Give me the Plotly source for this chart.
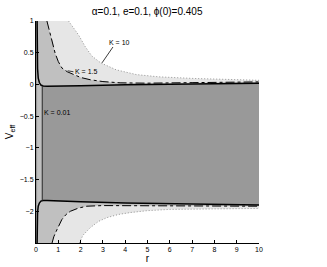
import numpy as np
import plotly.graph_objects as go

# ---- data ----
X_RANGE = [0, 10]
Y_RANGE = [-2.5, 1]

# K = 10 (dotted)
k10_up_r = [1.46, 1.7, 1.91, 2.2, 2.5, 2.9, 3.6, 4.5, 5.5, 7, 8.5, 10]
k10_up_v = [1.0, 0.88, 0.78, 0.6, 0.45, 0.34, 0.23, 0.155, 0.12, 0.095, 0.078, 0.065]
k10_lo_r = [1.95, 2.1, 2.43, 2.8, 3.18, 3.7, 4.22, 5, 6, 8, 10]
k10_lo_v = [-2.5, -2.38, -2.26, -2.16, -2.10, -2.05, -2.02, -1.99, -1.97, -1.96, -1.955]

# K = 1.5 (dash-dot)
k15_up_r = [0.49, 0.6, 0.72, 0.86, 1.0, 1.16, 1.4, 1.68, 2.0, 2.43, 3, 3.77, 5, 7, 10]
k15_up_v = [1.0, 0.85, 0.705, 0.49, 0.36, 0.26, 0.2, 0.153, 0.11, 0.074, 0.045, 0.025, 0.02, 0.028, 0.04]
k15_lo_r = [0.72, 0.8, 0.94, 1.16, 1.35, 1.54, 1.9, 2.28, 3, 3.77, 5, 7, 10]
k15_lo_v = [-2.5, -2.4, -2.29, -2.13, -2.05, -2.0, -1.95, -1.92, -1.91, -1.91, -1.91, -1.915, -1.92]

# K = 0.01 (solid)
k001_up_r = [0.05, 0.055, 0.07, 0.1, 0.15, 0.22, 0.32, 0.5, 1, 2, 4, 6, 8, 10]
k001_up_v = [1.0, 0.55, 0.25, 0.1, 0.03, -0.01, -0.025, -0.03, -0.03, -0.02, -0.005, 0.005, 0.013, 0.02]
k001_lo_r = [0.05, 0.055, 0.07, 0.1, 0.15, 0.22, 0.32, 0.5, 1, 2, 4, 6, 8, 10]
k001_lo_v = [-2.5, -2.2, -2.02, -1.92, -1.87, -1.84, -1.83, -1.83, -1.84, -1.85, -1.87, -1.88, -1.89, -1.90]

k001_marker_r = 0.28   # r of the K = 0.01 marker line
strip_r = 0.05         # left dark strip width

x_ticks = list(range(0, 11))
y_ticks = [1, 0.5, 0, -0.5, -1, -1.5, -2]
y_ticktext = ["1", "0.5", "0", "\u22120.5", "\u22121", "\u22121.5", "\u22122"]

LIGHT = "rgb(230,230,230)"
MED = "rgb(192,192,192)"
DARK = "rgb(153,153,153)"

fig = go.Figure()

def region(up_r, up_v, lo_r, lo_v, color):
    xs = [X_RANGE[0]] + list(up_r) + list(lo_r)[::-1] + [X_RANGE[0]]
    ys = [Y_RANGE[1]] + list(up_v) + list(lo_v)[::-1] + [Y_RANGE[0]]
    fig.add_trace(go.Scatter(x=xs, y=ys, fill="toself", fillcolor=color,
                             mode="lines", line=dict(width=0), hoverinfo="skip",
                             showlegend=False))

region(k10_up_r, k10_up_v, k10_lo_r, k10_lo_v, LIGHT)
region(k15_up_r, k15_up_v, k15_lo_r, k15_lo_v, MED)

# dark band between K=0.01 branches for r >= marker
ur = np.array(k001_up_r); uv = np.array(k001_up_v)
lr = np.array(k001_lo_r); lv = np.array(k001_lo_v)
top_m = float(np.interp(k001_marker_r, ur, uv))
bot_m = float(np.interp(k001_marker_r, lr, lv))
mu = ur > k001_marker_r
ml = lr > k001_marker_r
bx = [k001_marker_r] + list(ur[mu]) + list(lr[ml])[::-1] + [k001_marker_r]
by = [top_m] + list(uv[mu]) + list(lv[ml])[::-1] + [bot_m]
fig.add_trace(go.Scatter(x=bx, y=by, fill="toself", fillcolor=DARK, mode="lines",
                         line=dict(width=0), hoverinfo="skip", showlegend=False))
# left strip
fig.add_trace(go.Scatter(x=[0, strip_r, strip_r, 0, 0], y=[Y_RANGE[0], Y_RANGE[0], Y_RANGE[1], Y_RANGE[1], Y_RANGE[0]],
                         fill="toself", fillcolor=DARK, mode="lines", line=dict(width=0),
                         hoverinfo="skip", showlegend=False))

# curves
for r, v in [(k10_up_r, k10_up_v), (k10_lo_r, k10_lo_v)]:
    fig.add_trace(go.Scatter(x=r, y=v, mode="lines", line=dict(color="rgb(150,150,150)", width=1, dash="1px,2px"),
                             showlegend=False, hoverinfo="skip"))
for r, v in [(k15_up_r, k15_up_v), (k15_lo_r, k15_lo_v)]:
    fig.add_trace(go.Scatter(x=r, y=v, mode="lines", line=dict(color="black", width=1, dash="dashdot"),
                             showlegend=False, hoverinfo="skip"))
for r, v in [(k001_up_r, k001_up_v), (k001_lo_r, k001_lo_v)]:
    fig.add_trace(go.Scatter(x=r, y=v, mode="lines", line=dict(color="black", width=1.5),
                             showlegend=False, hoverinfo="skip"))
# marker line for K = 0.01
fig.add_trace(go.Scatter(x=[k001_marker_r, k001_marker_r], y=[top_m, bot_m], mode="lines",
                         line=dict(color="rgb(40,40,40)", width=1), showlegend=False, hoverinfo="skip"))
# leader lines
fig.add_trace(go.Scatter(x=[2.96, 3.45], y=[0.34, 0.59], mode="lines",
                         line=dict(color="rgb(60,60,60)", width=1), showlegend=False, hoverinfo="skip"))
fig.add_trace(go.Scatter(x=[1.42, 1.68], y=[0.215, 0.2], mode="lines",
                         line=dict(color="rgb(60,60,60)", width=1), showlegend=False, hoverinfo="skip"))

lab_font = dict(family="Liberation Sans, Arial, sans-serif", size=7, color="black")
fig.add_annotation(x=3.2, y=0.66, text="K = 10", showarrow=False, xanchor="left", font=lab_font)
fig.add_annotation(x=1.68, y=0.2, text="K = 1.5", showarrow=False, xanchor="left", font=lab_font)
fig.add_annotation(x=k001_marker_r, y=-0.45, text="K = 0.01", showarrow=False, xanchor="left", font=lab_font)

fig.update_layout(
    width=327, height=267,
    margin=dict(l=36, r=68, t=21, b=24, autoexpand=False),
    paper_bgcolor="white", plot_bgcolor="white",
    title=dict(text="\u03b1=0.1, e=0.1, \u03d5(0)=0.405", x=0.45, xanchor="center", y=0.97, yanchor="top",
               font=dict(family="Liberation Sans, Arial, sans-serif", size=10, color="black")),
    font=dict(family="Liberation Sans, Arial, sans-serif", size=7, color="black"),
)
fig.update_xaxes(range=X_RANGE, tickvals=x_ticks, ticks="inside", ticklen=3, tickcolor="black",
                 showline=True, linecolor="black", linewidth=1, showgrid=False, zeroline=False,
                 automargin=False,
                 title=dict(text="r", font=dict(size=10), standoff=0), tickfont=dict(size=7))
fig.update_yaxes(range=Y_RANGE, tickvals=y_ticks, ticktext=y_ticktext, ticks="inside", ticklen=3,
                 tickcolor="black", showline=True, linecolor="black", linewidth=1, showgrid=False,
                 zeroline=False, automargin=False,
                 title=dict(text="V<sub>eff</sub>", font=dict(size=10), standoff=4),
                 tickfont=dict(size=7))

fig.write_html("out.html", config={"displayModeBar": False},
               post_script="document.body.style.margin='0';document.body.style.overflow='hidden';")
